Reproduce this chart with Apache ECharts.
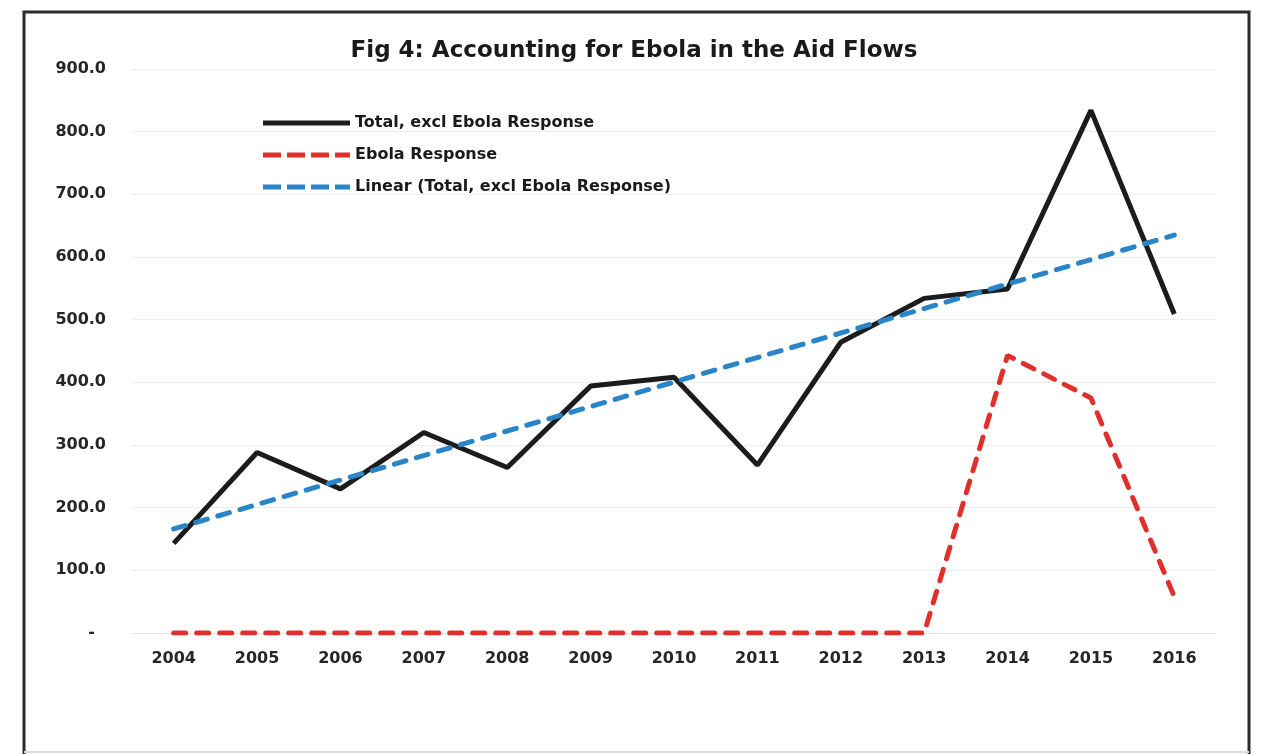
<!DOCTYPE html>
<html>
<head>
<meta charset="utf-8">
<title>Fig 4</title>
<script src="https://cdn.jsdelivr.net/npm/echarts@6.0.0/dist/echarts.min.js"></script>
<style>
    html, body { margin: 0; padding: 0; background: #fff; }
    #main { width: 1268px; height: 754px; }
</style>
</head>
<body>
<div id="main"></div>
<script>
// data
var years = ['2004', '2005', '2006', '2007', '2008', '2009', '2010', '2011', '2012', '2013', '2014', '2015', '2016'];
var totalExcl = [143, 288, 230, 320, 264, 394, 408, 268, 464, 534, 549, 834, 509];
var ebolaResp = [0, 0, 0, 0, 0, 0, 0, 0, 0, 0, 443, 375, 58];
// trend line end points (2004 and 2016)
var trendEnds = [166, 635];
var yTicks = [0, 100, 200, 300, 400, 500, 600, 700, 800, 900];

(function() {
    //1.实例化对象
    var myChart = echarts.init(document.querySelector("#main"));
    var fontName = 'DejaVu Sans';
    // dashed legend icon, four dashes
    var dashIcon = 'path://M0,0H18V5H0Z M24,0H42V5H24Z M48,0H66V5H48Z M72,0H87V5H72Z';
    //2.指定配置项和数据
    var option = {
        backgroundColor: '#fff',
        animation: false,
        title: {
            text: 'Fig 4: Accounting for Ebola in the Aid Flows',
            left: 'center',
            top: 40,
            padding: 0,
            textStyle: {
                fontFamily: fontName,
                fontSize: 23,
                fontWeight: 'bold',
                color: '#1a1a1a'
            }
        },
        legend: {
            orient: 'vertical',
            left: 263,
            top: 115,
            padding: 0,
            itemWidth: 87,
            itemHeight: 5,
            itemGap: 16,
            textStyle: {
                fontFamily: fontName,
                fontSize: 16,
                fontWeight: 'bold',
                color: '#1a1a1a',
                lineHeight: 14
            },
            data: [
                { name: 'Total, excl Ebola Response', icon: 'rect' },
                { name: 'Ebola Response', icon: dashIcon },
                { name: 'Linear (Total, excl Ebola Response)', icon: dashIcon }
            ]
        },
        grid: {
            left: 132,
            right: 52,
            top: 69,
            bottom: 121
        },
        xAxis: {
            type: 'category',
            data: years,
            boundaryGap: true,
            axisTick: { show: false },
            axisLine: {
                lineStyle: { color: '#e6e6e6', width: 1 }
            },
            axisLabel: {
                margin: 18,
                fontFamily: fontName,
                fontSize: 16,
                fontWeight: 'bold',
                color: '#262626'
            }
        },
        yAxis: {
            type: 'value',
            min: yTicks[0],
            max: yTicks[yTicks.length - 1],
            interval: 100,
            axisTick: { show: false },
            axisLine: { show: false },
            splitLine: {
                lineStyle: { color: '#ececec', width: 1 }
            },
            axisLabel: {
                margin: 26,
                fontFamily: fontName,
                fontSize: 16,
                fontWeight: 'bold',
                color: '#262626',
                formatter: function(v) {
                    // excel accounting format shows a dash for zero
                    return v === 0 ? '-  ' : v.toFixed(1);
                }
            }
        },
        series: [{
                name: 'Total, excl Ebola Response',
                type: 'line',
                symbol: 'none',
                lineStyle: { color: '#1c1c1c', width: 5 },
                itemStyle: { color: '#1c1c1c' },
                data: totalExcl
            },
            {
                name: 'Ebola Response',
                type: 'line',
                symbol: 'none',
                lineStyle: { color: '#e0302b', width: 5, type: [12, 11], cap: 'round' },
                itemStyle: { color: '#e0302b' },
                data: ebolaResp
            },
            {
                name: 'Linear (Total, excl Ebola Response)',
                type: 'line',
                symbol: 'none',
                lineStyle: { color: '#2a84c8', width: 5, type: [12, 11], cap: 'round' },
                itemStyle: { color: '#2a84c8' },
                data: [
                    [years[0], trendEnds[0]],
                    [years[years.length - 1], trendEnds[1]]
                ]
            }
        ],
        // chart frame
        graphic: [{
                type: 'polyline',
                shape: { points: [[24, 754], [24, 12], [1249, 12], [1249, 754]] },
                style: { stroke: '#2b2b2b', lineWidth: 3, fill: null }
            },
            {
                type: 'line',
                shape: { x1: 24, y1: 752, x2: 1249, y2: 752 },
                style: { stroke: '#e4d8d8', lineWidth: 2 }
            }
        ]
    };
    //3.把配置项给实例对象
    myChart.setOption(option);
    //4.让图表跟随屏幕自动去适应
    window.addEventListener("resize", function() {
        myChart.resize();
    });
})();
</script>
</body>
</html>
